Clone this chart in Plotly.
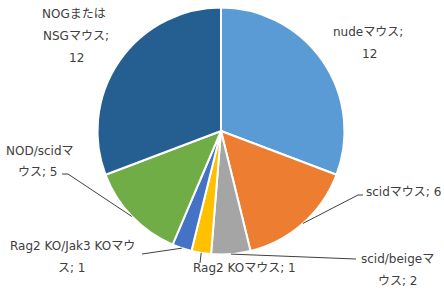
import math
import plotly.graph_objects as go

# ---- data ----
strains = ["nudeマウス", "scidマウス", "scid/beigeマウス", "Rag2 KOマウス",
           "Rag2 KO/Jak3 KOマウス", "NOD/scidマウス", "NOGまたはNSGマウス"]
counts = [12, 6, 2, 1, 1, 5, 12]
colors = ["#5B9BD5", "#ED7D31", "#A5A5A5", "#FFC000", "#4472C4", "#70AD47", "#255E91"]

# label text lines per slice (as wrapped in the original)
label_lines = [
    ["nudeマウス;", "12"],
    ["scidマウス; 6"],
    ["scid/beigeマ", "ウス; 2"],
    ["Rag2 KOマウス; 1"],
    ["Rag2 KO/Jak3 KOマウ", "ス; 1"],
    ["NOD/scidマ", "ウス; 5"],
    ["NOGまたは", "NSGマウス;", "12"],
]

W, H = 444, 302
# pie geometry (pixels)
CX, CY, R = 221.0, 131.0, 123.5

def px(x):
    return x / W

def py(y):
    return 1 - y / H

fig = go.Figure()
fig.add_trace(go.Pie(
    labels=strains, values=counts, sort=False, direction="clockwise",
    rotation=0, marker=dict(colors=colors, line=dict(color="white", width=2)),
    textinfo="none", hoverinfo="label+value", showlegend=False,
    domain=dict(x=[px(CX - R), px(CX + R)], y=[py(CY + R), py(CY - R)]),
))

FONT = dict(family="DejaVu Sans, Noto Sans CJK JP, sans-serif", size=12, color="#404040")

# label placements (pixel centers for each line)
label_pos = [
    [(368, 32), (369, 54)],
    [(403, 192)],
    [(397, 259), (398, 281)],
    [(244, 268)],
    [(72, 246), (72, 268)],
    [(40, 151), (38, 172)],
    [(74, 14), (76, 36), (76, 58)],
]
annotations = []
for lines, poss in zip(label_lines, label_pos):
    for t, (x, y) in zip(lines, poss):
        annotations.append(dict(text=t, x=px(x), y=py(y), xref="paper", yref="paper",
                                showarrow=False, font=FONT, xanchor="center", yanchor="middle"))

# leader line waypoints (label side), None = no leader line
leader_pts = [
    None,
    [(358, 195), (363, 195)],
    [(356, 259)],
    [(200, 263)],
    [(142, 254)],
    [(68, 174), (62, 174)],
    None,
]
total = sum(counts)
shapes = []
cum = 0
for v, pts in zip(counts, leader_pts):
    mid = (cum + v / 2) / total * 2 * math.pi
    cum += v
    if pts is None:
        continue
    ex = CX + R * math.sin(mid)
    ey = CY - R * math.cos(mid)
    path = "M {} {}".format(px(ex), py(ey))
    for (x, y) in pts:
        path += " L {} {}".format(px(x), py(y))
    shapes.append(dict(type="path", path=path, xref="paper", yref="paper",
                       line=dict(color="#404040", width=1)))

# partially visible caption at the bottom
annotations.append(dict(text="図1　PDXモデルに使用されたマウスの系統", x=px(217), y=py(298),
                        xref="paper", yref="paper", showarrow=False, xanchor="center",
                        yanchor="top",
                        font=dict(family="Noto Sans CJK JP", size=15, color="#000000")))

fig.update_layout(width=W, height=H, margin=dict(l=0, r=0, t=0, b=0),
                  paper_bgcolor="white", plot_bgcolor="white",
                  annotations=annotations, shapes=shapes)
fig.write_html("out.html")
